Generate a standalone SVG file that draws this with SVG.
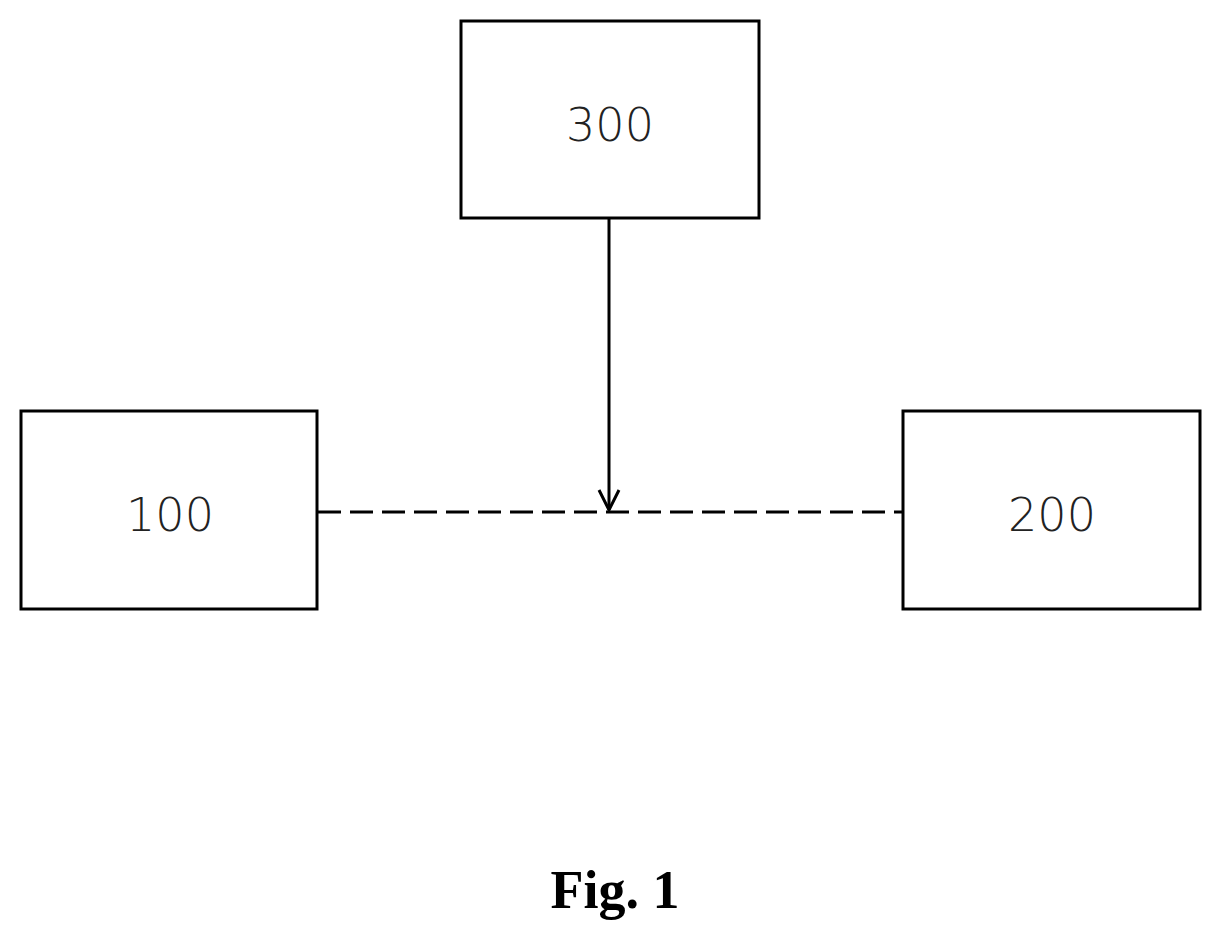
<svg xmlns="http://www.w3.org/2000/svg" width="1222" height="942" viewBox="0 0 1222 942">
<style>
.box{fill:#fff;stroke:#000;stroke-width:3}
.lbl{font-family:"DejaVu Sans",sans-serif;font-size:46px;font-weight:300;fill:#222;text-anchor:middle}
.ln{stroke:#000;stroke-width:3;fill:none}
</style>
<rect width="1222" height="942" fill="#fff"/>
<g id="connectors">
<line class="ln" x1="318" y1="512" x2="902" y2="512" stroke-dasharray="23 9"/>
<line class="ln" x1="609" y1="219" x2="609" y2="510"/>
<path class="ln" d="M599 490 L609 510 L619 490" stroke-width="2.5"/>
</g>
<g id="n300"><rect class="box" x="461" y="21" width="298" height="197"/><text class="lbl" x="610" y="141">300</text></g>
<g id="n100"><rect class="box" x="21" y="411" width="296" height="198"/><text class="lbl" x="170" y="531">100</text></g>
<g id="n200"><rect class="box" x="903" y="411" width="297" height="198"/><text class="lbl" x="1052" y="531">200</text></g>
<text x="615" y="908" font-family="Liberation Serif,serif" font-weight="bold" font-size="54" text-anchor="middle">Fig. 1</text>
</svg>
